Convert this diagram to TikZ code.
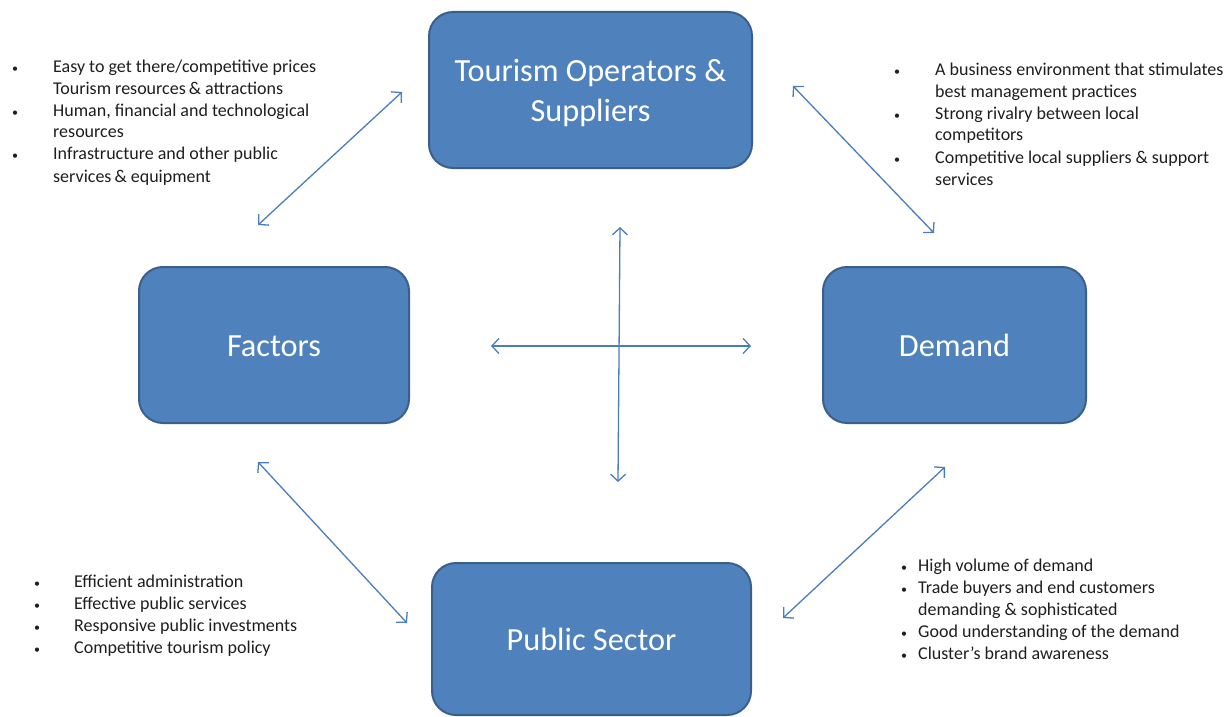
\documentclass[tikz,border=0pt]{standalone}
\usepackage{fontspec}
\setmainfont{Carlito}
\usetikzlibrary{arrows.meta}
\definecolor{boxfill}{HTML}{4F81BD}
\definecolor{boxedge}{HTML}{3A5F8C}
\definecolor{arr}{HTML}{4A7EBB}
\definecolor{txt}{HTML}{1E1E1E}
\newcommand{\bul}{{\fontsize{12}{12}\selectfont •}}
\newcommand{\boxtext}[1]{\raisebox{-3pt}[\height][\depth]{\begin{tabular}{@{}c@{}}#1\end{tabular}}}
\tikzset{
  bigbox/.style={draw=boxedge, line width=2pt, fill=boxfill, rounded corners=24pt,
    text=white, align=center, inner sep=0pt, minimum height=156pt,
    font=\fontsize{32.3}{40}\selectfont},
  twoway/.style={draw=arr, line width=1.3pt,
    {Straight Barb[length=7pt,width=15pt]}-{Straight Barb[length=7pt,width=15pt]}},
  bullets/.style={anchor=base west, inner sep=0pt, text=txt,
    font=\fontsize{18}{22}\selectfont}
}
\begin{document}
\begin{tikzpicture}[x=1pt,y=-1pt]
\useasboundingbox (0,0) rectangle (1231,717);
% boxes
\node[bigbox, minimum width=323pt] (top) at (590.5,90) {\boxtext{Tourism Operators \&\\Suppliers}};
\node[bigbox, minimum width=270pt] (fac) at (274,345) {\boxtext{Factors}};
\node[bigbox, minimum width=263pt] (dem) at (954.5,345) {\boxtext{Demand}};
\node[bigbox, minimum width=319pt, minimum height=152pt] (pub) at (591.5,639) {\boxtext{Public Sector}};
% arrow end points
\coordinate (tlA) at (258,225); \coordinate (tlB) at (402,92);
\coordinate (trA) at (793,86);  \coordinate (trB) at (934,233);
\coordinate (blA) at (258,462); \coordinate (blB) at (407,623);
\coordinate (brA) at (945,467); \coordinate (brB) at (783,618);
\coordinate (vA) at (620,227);  \coordinate (vB) at (618,482);
\coordinate (hA) at (491,346);  \coordinate (hB) at (751,346);
\draw[twoway] (tlA) -- (tlB);
\draw[twoway] (trA) -- (trB);
\draw[twoway] (blA) -- (blB);
\draw[twoway] (brA) -- (brB);
\draw[twoway] (vA) -- (vB);
\draw[twoway] (hA) -- (hB);
% bullet texts
\node[bullets] (tltext) at (12,72) {\begin{tabular}[t]{@{}p{41pt}@{}l@{}}
\bul& Easy to get there/competitive prices\\
 & Tourism resources\,\& attractions\\
\bul& Human, financial and technological\\
 & resources\\
\bul& Infrastructure and other public\\
 & services\,\& equipment
\end{tabular}};
\node[bullets] (trtext) at (894,75) {\begin{tabular}[t]{@{}p{41pt}@{}l@{}}
\bul& A business environment that stimulates\\
 & best management practices\\
\bul& Strong rivalry between local\\
 & competitors\\
\bul& Competitive local suppliers \& support\\
 & services
\end{tabular}};
\node[bullets] (bltext) at (34,587) {\begin{tabular}[t]{@{}p{40pt}@{}l@{}}
\bul& Efficient administration\\
\bul& Effective public services\\
\bul& Responsive public investments\\
\bul& Competitive tourism policy
\end{tabular}};
\node[bullets] (brtext) at (901,571) {\begin{tabular}[t]{@{}p{17pt}@{}l@{}}
\bul& High volume of demand\\
\bul& Trade buyers and end customers\\
 & demanding \& sophisticated\\
\bul& Good understanding of the demand\\
\bul& Cluster’s brand awareness
\end{tabular}};
\end{tikzpicture}
\end{document}
